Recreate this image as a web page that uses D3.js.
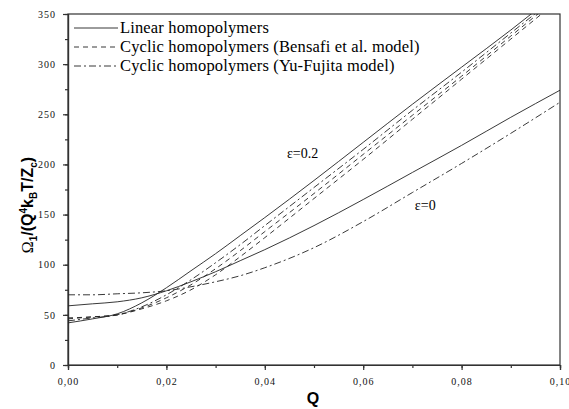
<!DOCTYPE html>
<html lang="en">
<head>
    <meta charset="UTF-8">
    <title>Omega vs Q</title>
    <script src="https://cdn.jsdelivr.net/npm/d3@7"></script>
    <style>
        body { margin: 0; background: white; }
        svg { display: block; }
    </style>
</head>
<body>
<script>
    // Q grid and curve values
    var qValues = [0, 0.005, 0.01, 0.015, 0.02, 0.025, 0.03, 0.035, 0.04, 0.05, 0.06, 0.07, 0.08, 0.09, 0.1];

    var linear02   = [42, 46, 51, 62, 77, 94, 111, 129, 147, 184, 222, 260, 297, 334, 373];
    var yuFujita02 = [44, 47, 50, 58, 70, 85, 102, 120, 139, 177, 215, 254, 292, 331, 370];
    var bensafi02a = [47, 48, 50, 57, 67, 80, 96, 114, 133, 171, 210, 249, 288, 328, 368];
    var bensafi02b = [46, 48, 50, 56, 64, 75, 90, 108, 127, 166, 205, 245, 285, 325, 365];
    var linear0    = [59, 61, 63, 67, 74, 83, 93, 104, 115, 139, 165, 192, 219, 247, 274];
    var yuFujita0  = [70, 70, 71, 72, 74, 78, 83, 89, 97, 117, 143, 172, 201, 231, 262];

    var xTicks = [0, 0.02, 0.04, 0.06, 0.08, 0.1];
    var yTicks = [0, 50, 100, 150, 200, 250, 300, 350];

    var legendLabels = ["Linear homopolymers",
        "Cyclic homopolymers (Bensafi et al. model)",
        "Cyclic homopolymers (Yu-Fujita model)"];

    var dashSolid = null, dashDashed = "5,4", dashDot = "7,3,2,3";

    var series = [
        {values: linear02, dash: dashSolid},
        {values: yuFujita02, dash: dashDot},
        {values: bensafi02a, dash: dashDashed},
        {values: bensafi02b, dash: dashDashed},
        {values: linear0, dash: dashSolid},
        {values: yuFujita0, dash: dashDot}
    ];

    var serif = "'Liberation Serif', 'DejaVu Serif', 'Times New Roman', serif";
    var sans = "'Liberation Sans', Arial, sans-serif";

    var W = 569, H = 409;
    var margin = {top: 14, right: 9, bottom: 44, left: 68};
    var width = W - margin.left - margin.right,
        height = H - margin.top - margin.bottom;

    var svg = d3.select("body").append("svg")
        .attr("width", W)
        .attr("height", H);

    var g = svg.append("g")
        .attr("transform", "translate(" + margin.left + "," + margin.top + ")");

    var x = d3.scaleLinear().domain([0, 0.1]).range([0, width]);
    var y = d3.scaleLinear().domain([0, 350]).range([height, 0]);

    g.append("clipPath").attr("id", "clip")
        .append("rect").attr("width", width).attr("height", height);

    // minor ticks
    var xAxisMinor = d3.axisBottom(x).tickValues(d3.range(0, 0.1001, 0.01)).tickSize(3).tickFormat("");
    var yAxisMinor = d3.axisLeft(y).tickValues(d3.range(0, 351, 25)).tickSize(3).tickFormat("");
    g.append("g").attr("transform", "translate(0," + height + ")").call(xAxisMinor);
    g.append("g").call(yAxisMinor);

    var fmt = function (d) { return d3.format(".2f")(d).replace(".", ","); };
    var xAxis = d3.axisBottom(x).tickValues(xTicks).tickSize(5).tickPadding(8).tickFormat(fmt);
    var yAxis = d3.axisLeft(y).tickValues(yTicks).tickSize(5).tickPadding(7);

    var gx = g.append("g").attr("transform", "translate(0," + height + ")").call(xAxis);
    var gy = g.append("g").call(yAxis);

    [gx, gy].forEach(function (a) {
        a.attr("font-family", serif).attr("font-size", 10);
        a.selectAll("text")
            .style("font-family", serif)
            .style("letter-spacing", "1px").attr("fill", "#111");
    });
    g.selectAll(".domain").attr("stroke", "#333").attr("stroke-width", 1.2);
    g.selectAll(".tick line").attr("stroke", "#333").attr("stroke-width", 1.2);

    // frame
    g.append("rect")
        .attr("width", width).attr("height", height)
        .attr("fill", "none").attr("stroke", "#333").attr("stroke-width", 1.2);

    var line = d3.line()
        .x(function (d, i) { return x(qValues[i]); })
        .y(function (d) { return y(d); })
        .curve(d3.curveMonotoneX);

    g.append("g").attr("clip-path", "url(#clip)")
        .selectAll("path")
        .data(series)
        .enter()
        .append("path")
        .attr("d", function (d) { return line(d.values); })
        .attr("fill", "none")
        .attr("stroke", "#222")
        .attr("stroke-width", 0.9)
        .attr("stroke-dasharray", function (d) { return d.dash; });

    // legend
    var legendDashes = [dashSolid, dashDashed, dashDot];
    var leg = g.selectAll(".leg")
        .data(legendLabels)
        .enter()
        .append("g")
        .attr("transform", function (d, i) { return "translate(6," + (14 + i * 19) + ")"; });
    leg.append("line")
        .attr("x1", 0).attr("x2", 44).attr("y1", 0).attr("y2", 0)
        .attr("stroke", "#222").attr("stroke-width", 0.9)
        .attr("stroke-dasharray", function (d, i) { return legendDashes[i]; });
    leg.append("text")
        .attr("x", 46).attr("y", 5)
        .style("font-family", serif)
        .style("font-size", "16.5px")
        .style("letter-spacing", "0.15px")
        .text(function (d) { return d; });

    // epsilon labels
    g.append("text")
        .attr("x", x(0.0445)).attr("y", y(206))
        .style("font-family", serif)
        .style("font-size", "14px").text("ε=0.2");
    g.append("text")
        .attr("x", x(0.0705)).attr("y", y(155))
        .style("font-family", serif)
        .style("font-size", "14px").text("ε=0");

    // axis titles
    svg.append("text")
        .attr("x", 313).attr("y", 404)
        .attr("text-anchor", "middle")
        .style("font-family", sans).style("font-weight", "bold")
        .style("font-size", "16px")
        .text("Q");

    var yl = svg.append("text")
        .attr("transform", "translate(33,205) rotate(-90)")
        .attr("text-anchor", "middle")
        .style("font-family", sans).style("font-weight", "bold")
        .style("font-size", "16px");
    yl.append("tspan").style("font-family", serif).style("font-weight", "normal").text("Ω");
    yl.append("tspan").attr("dy", 4).style("font-size", "10px").text("1");
    yl.append("tspan").attr("dy", -4).text("/(Q");
    yl.append("tspan").attr("dy", -6).style("font-size", "10px").text("4");
    yl.append("tspan").attr("dy", 6).text("k");
    yl.append("tspan").attr("dy", 4).style("font-size", "10px").text("B");
    yl.append("tspan").attr("dy", -4).text("T/Z");
    yl.append("tspan").attr("dy", 4).style("font-size", "10px").text("c");
    yl.append("tspan").attr("dy", -4).text(")");
</script>
</body>
</html>
